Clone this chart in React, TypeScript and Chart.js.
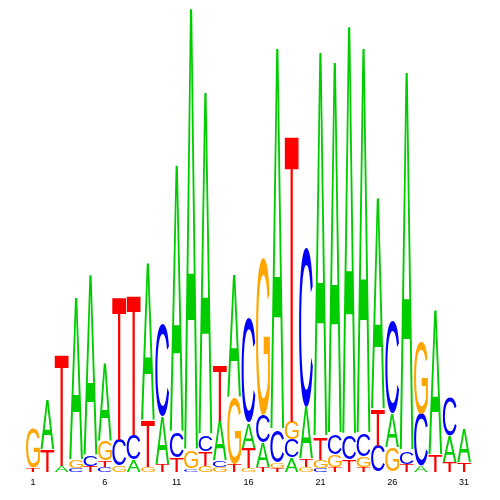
import React, { useEffect, useRef } from "react";
import { Chart, registerables } from "chart.js";

Chart.register(...registerables);

// Sequence positions
const POSITIONS = Array.from({ length: 31 }, (_, i) => String(i + 1));

// Letter heights per position (arbitrary information units)
const A_VALUES = [0, 0.49, 0.06, 1.62, 1.81, 0.77, 0, 0.12, 1.57, 0.48, 2.68, 4.44, 3.44, 0.40, 1.22, 0.25, 0.24, 3.83, 0.14, 0.52, 3.86, 3.73, 4.10, 3.87, 2.12, 0.34, 3.80, 0.06, 1.45, 0.26, 0.33];
const C_VALUES = [0, 0, 0, 0.04, 0.10, 0.05, 0.26, 0.25, 0, 0.92, 0.25, 0.03, 0.16, 0.06, 0, 1.04, 0.28, 0.32, 0.18, 1.59, 0.04, 0.20, 0.24, 0.22, 0.26, 0.92, 0.12, 0.52, 0, 0.38, 0];
const G_VALUES = [0.39, 0, 0, 0.08, 0, 0.20, 0.06, 0, 0.05, 0, 0, 0.17, 0.06, 0.05, 0.66, 0.04, 1.57, 0.05, 0.18, 0.05, 0.08, 0.12, 0, 0.10, 0, 0.24, 0, 0.72, 0, 0, 0];
const T_VALUES = [0.04, 0.22, 1.11, 0, 0.06, 0.06, 1.43, 1.40, 0.46, 0.07, 0.14, 0, 0.14, 0.56, 0.08, 0.20, 0.05, 0.04, 2.87, 0.08, 0.22, 0.05, 0.12, 0.05, 0.36, 0, 0.08, 0, 0.17, 0.10, 0.09];

const LETTERS = ["A", "C", "G", "T"];
const LETTER_VALUES = [A_VALUES, C_VALUES, G_VALUES, T_VALUES];
const COLORS: Record<string, string> = {
  A: "#00cc00",
  C: "#0000ff",
  G: "#ffa500",
  T: "#ff0000",
};

// Build rank-ordered stacks: smallest letter at the bottom of each column
function buildRankDatasets() {
  const ranks = LETTERS.map(() => ({ data: [] as number[], letters: [] as string[] }));
  POSITIONS.forEach((_, i) => {
    const col = LETTERS.map((l, k) => ({ l, v: LETTER_VALUES[k][i] }));
    col.sort((a, b) => a.v - b.v);
    col.forEach((c, r) => {
      ranks[r].data.push(c.v);
      ranks[r].letters.push(c.l);
    });
  });
  return ranks.map((r, k) => ({
    label: "rank" + (k + 1),
    data: r.data,
    letters: r.letters,
    backgroundColor: "rgba(0,0,0,0)",
    borderWidth: 0,
    categoryPercentage: 1,
    barPercentage: 0.96,
  }));
}

function drawLetter(ctx: CanvasRenderingContext2D, letter: string, left: number, top: number, w: number, h: number) {
  ctx.save();
  ctx.font = '200px "Liberation Sans", Arial, sans-serif';
  ctx.textAlign = "left";
  ctx.textBaseline = "alphabetic";
  const m = ctx.measureText(letter);
  const gw = m.actualBoundingBoxLeft + m.actualBoundingBoxRight;
  const gh = m.actualBoundingBoxAscent + m.actualBoundingBoxDescent;
  ctx.translate(left, top);
  ctx.scale(w / gw, h / gh);
  ctx.fillStyle = COLORS[letter];
  ctx.fillText(letter, m.actualBoundingBoxLeft, m.actualBoundingBoxAscent);
  ctx.restore();
}

const logoPlugin = {
  id: "logoLetters",
  afterDatasetsDraw(chart: any) {
    const ctx = chart.ctx as CanvasRenderingContext2D;
    chart.data.datasets.forEach((ds: any, di: number) => {
      const meta = chart.getDatasetMeta(di);
      meta.data.forEach((bar: any, i: number) => {
        const letter = ds.letters[i];
        const p = bar.getProps(["x", "y", "base", "width"], true);
        const h = p.base - p.y;
        if (!(h > 0.2)) return;
        drawLetter(ctx, letter, p.x - p.width / 2, p.y, p.width, h);
      });
    });
  },
};

export default function App() {
  const ref = useRef<HTMLCanvasElement | null>(null);
  useEffect(() => {
    document.body.style.margin = "0";
    const canvas = ref.current;
    if (!canvas) return;
    const chart = new Chart(canvas, {
      type: "bar",
      data: {
        labels: POSITIONS,
        datasets: buildRankDatasets() as any,
      },
      options: {
        animation: false,
        responsive: false,
        devicePixelRatio: 1,
        layout: { padding: { left: 25.8, right: 28.7, top: 8, bottom: 7.5 } },
        plugins: {
          legend: { display: false },
          tooltip: { enabled: false },
        },
        scales: {
          x: {
            stacked: true,
            offset: true,
            grid: { display: false, drawTicks: false },
            border: { display: false },
            ticks: {
              autoSkip: false,
              maxRotation: 0,
              minRotation: 0,
              padding: 5,
              color: "#000",
              font: { size: 9, family: '"Liberation Sans", Arial, sans-serif' },
              callback: (_v: any, idx: number) => (idx % 5 === 0 ? POSITIONS[idx] : ""),
            },
          },
          y: {
            stacked: true,
            display: false,
            min: 0,
            max: 4.64,
          },
        },
      },
      plugins: [logoPlugin],
    });
    return () => chart.destroy();
  }, []);
  return (
    <div style={{ width: 500, height: 500 }}>
      <canvas ref={ref} width={500} height={500} style={{ display: "block" }} />
    </div>
  );
}
